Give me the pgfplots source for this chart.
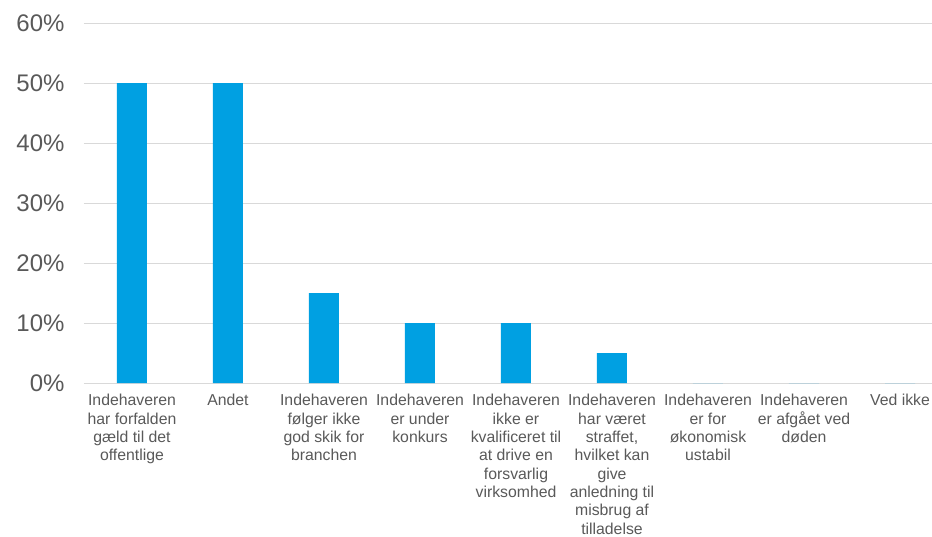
\documentclass[border=0pt]{standalone}
\usepackage{pgfplots}
\pgfplotsset{compat=1.18}
\usepackage{fontspec}
\setmainfont{Liberation Sans}
\definecolor{barblue}{RGB}{0,160,226}
\definecolor{txtgray}{RGB}{89,89,89}
\definecolor{gridgray}{RGB}{217,217,217}
\begin{document}
\begin{tikzpicture}
\useasboundingbox (-84pt,-153pt) rectangle (848pt,383pt);
\begin{axis}[
  at={(0,0)}, anchor=south west,
  scale only axis,
  width=864pt, height=360pt,
  xmin=-0.5, xmax=8.5,
  ymin=0, ymax=60,
  ytick={0,10,20,30,40,50,60},
  yticklabel={\pgfmathprintnumber{\tick}\%},
  /pgf/number format/assume math mode=true,
  xtick={0,1,2,3,4,5,6,7,8},
  xticklabels={
    {Indehaveren\\har forfalden\\gæld til det\\offentlige},
    {Andet},
    {Indehaveren\\følger ikke\\god skik for\\branchen},
    {Indehaveren\\er under\\konkurs},
    {Indehaveren\\ikke er\\kvalificeret til\\at drive en\\forsvarlig\\virksomhed},
    {Indehaveren\\har været\\straffet,\\hvilket kan\\give\\anledning til\\misbrug af\\tilladelse},
    {Indehaveren\\er for\\økonomisk\\ustabil},
    {Indehaveren\\er afgået ved\\døden},
    {Ved ikke}},
  xticklabel style={align=center, font=\fontsize{15.8}{18.3}\selectfont, text=txtgray, anchor=north, yshift=-8pt},
  yticklabel style={font=\fontsize{24}{26}\selectfont, text=txtgray, xshift=-16pt},
  axis line style={draw=none},
  axis x line*=bottom,
  x axis line style={draw=gridgray, line width=1pt},
  major tick length=0pt,
  ymajorgrids,
  grid style={draw=gridgray, line width=1pt},
  ybar,
  bar width=30pt,
]
\addplot[fill=barblue, draw=none] coordinates {
  (0,50) (1,50) (2,15) (3,10) (4,10) (5,5) (6,0) (7,0) (8,0)};
\end{axis}
\end{tikzpicture}
\end{document}
